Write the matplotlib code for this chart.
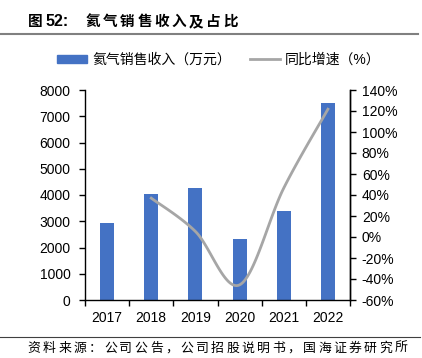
import numpy as np
import matplotlib
matplotlib.use("Agg")
from matplotlib import pyplot as plt
from matplotlib.lines import Line2D
from matplotlib.ticker import FuncFormatter, FixedLocator

plt.rcParams['font.family'] = ['Liberation Sans', 'Noto Sans CJK SC', 'DejaVu Sans']

years = ['2017', '2018', '2019', '2020', '2021', '2022']
revenue = [2950, 4040, 4250, 2310, 3390, 7520]          # 万元
growth = [None, 37.0, 5.3, -45.6, 46.6, 121.7]          # %

BLUE = '#4472C4'
GREY = '#A6A6A6'
W, H = 422, 358


def smooth(xs, ys, n=30):
    # Catmull-Rom style smoothing, like Excel's smoothed line
    px, py = [], []
    pts = list(zip(xs, ys))
    for i in range(len(pts) - 1):
        p0 = pts[i - 1] if i > 0 else pts[i]
        p1, p2 = pts[i], pts[i + 1]
        p3 = pts[i + 2] if i + 2 < len(pts) else pts[i + 1]
        c1 = (p1[0] + (p2[0] - p0[0]) / 6, p1[1] + (p2[1] - p0[1]) / 6)
        c2 = (p2[0] - (p3[0] - p1[0]) / 6, p2[1] - (p3[1] - p1[1]) / 6)
        t = np.linspace(0, 1, n)
        for a, b in ((0, px), (1, py)):
            b.extend((1 - t) ** 3 * p1[a] + 3 * (1 - t) ** 2 * t * c1[a]
                     + 3 * (1 - t) * t ** 2 * c2[a] + t ** 3 * p2[a])
    return px, py


def spaced_text(fig, x0, y, s, pitch, **kw):
    # place characters one by one with wide spacing (pixel units)
    for i, ch in enumerate(s):
        fig.text((x0 + i * pitch) / W, 1 - y / H, ch, va='center', ha='left', **kw)


fig = plt.figure(figsize=(W / 100, H / 100), dpi=100)
ax = fig.add_axes([85 / W, 1 - 300 / H, 265 / W, 210 / H])
ax2 = ax.twinx()

x = np.arange(len(years))
ax.bar(x, revenue, width=0.32, color=BLUE, zorder=2)
ax.set_xlim(-0.5, len(years) - 0.5)
ax.set_ylim(0, 8000)
ax.set_yticks(range(0, 8001, 1000))

gx = [i for i, g in enumerate(growth) if g is not None]
gy = [g for g in growth if g is not None]
sx, sy = smooth(gx, gy)
ax2.plot(sx, sy, color=GREY, lw=2, zorder=3)
ax2.set_ylim(-60, 140)
ax2.set_yticks(range(-60, 141, 20))
ax2.yaxis.set_major_formatter(FuncFormatter(lambda v, p: f'{v:.0f}%'))

ax.set_xticks(x)
ax.set_xticklabels(years)
ax.xaxis.set_minor_locator(FixedLocator(np.arange(-0.5, len(years), 1.0)))
ax.tick_params(axis='x', which='major', length=0, labelsize=10, pad=8)
ax.tick_params(axis='x', which='minor', length=4, width=1, direction='out')
ax.tick_params(axis='y', labelsize=10, length=4, width=1, pad=6.5)
ax2.tick_params(axis='y', labelsize=10, length=4, width=1, pad=4.5)

for a in (ax, ax2):
    a.spines['top'].set_visible(False)
    for s in a.spines.values():
        s.set_linewidth(1)
ax2.spines['left'].set_visible(False)
ax2.spines['bottom'].set_visible(False)

handles = [plt.Rectangle((0, 0), 1, 1, color=BLUE),
           Line2D([0], [0], color=GREY, lw=2)]
fig.legend(handles, ['氦气销售收入（万元）', '同比增速（%）'], ncol=2,
           loc='center', bbox_to_anchor=(219 / W, 1 - 60 / H), frameon=False,
           fontsize=10, handlelength=2.16, handleheight=0.55,
           columnspacing=1.3, handletextpad=0.4, borderpad=0)

# title
fig.text(28 / W, 1 - 22 / H, '图', fontsize=10.5, fontweight='bold',
         va='center', ha='left')
fig.text(46 / W, 1 - 22 / H, '52:', fontsize=11.5, fontweight='bold',
         va='center', ha='left')
spaced_text(fig, 86, 22, '氦气销售收入及占比', 17.1, fontsize=10.5,
            fontweight='bold')
fig.add_artist(Line2D([0, 0.99], [1 - 33.5 / H] * 2, color='#808080', lw=1.5))

# source
fig.add_artist(Line2D([0, 0.995], [1 - 337 / H] * 2, color='#404040', lw=0.8))
spaced_text(fig, 27.5, 349, '资料来源：公司公告，公司招股说明书，国海证券研究所',
            15.3, fontsize=9.3)

fig.savefig('out.png', dpi=100)
